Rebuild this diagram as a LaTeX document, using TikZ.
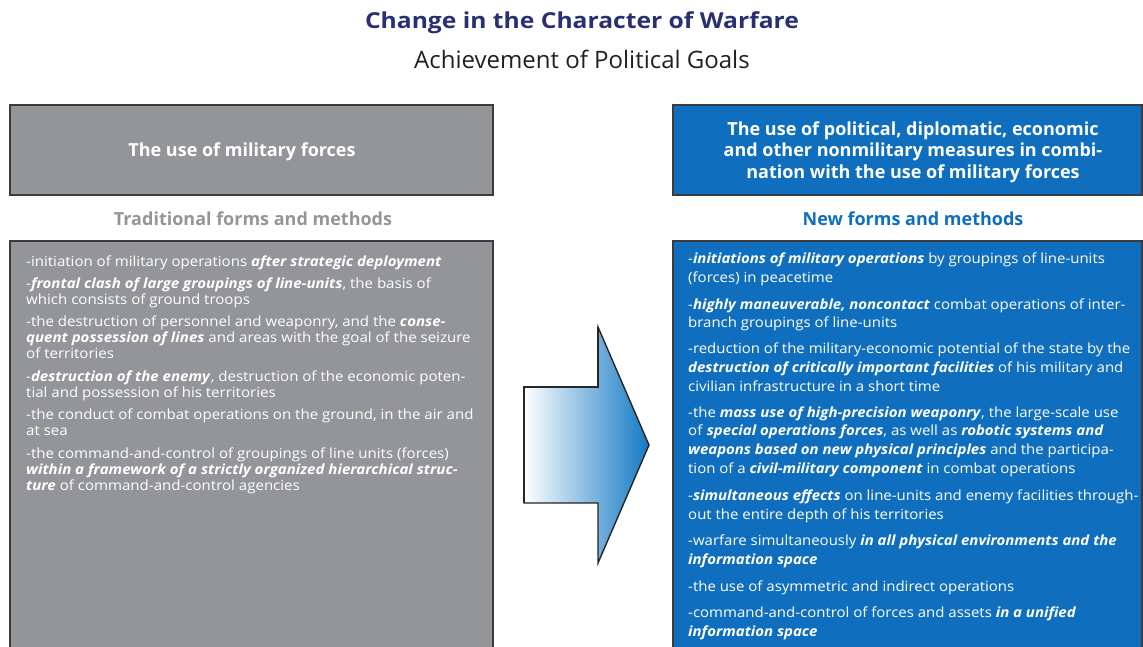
\documentclass[tikz,border=0pt]{standalone}
\usepackage{fontspec}
\setmainfont{Open Sans}
\newfontfamily\bodyfont[FakeStretch=1.075]{Open Sans}
\newfontfamily\rbodyfont[FakeStretch=1.07]{Open Sans}
\newfontfamily\titlefont[FakeStretch=1.12]{Open Sans}
\usetikzlibrary{shadings}
\definecolor{boxgray}{HTML}{939598}
\definecolor{boxblue}{HTML}{0F6FBE}
\definecolor{edgegray}{HTML}{3C3C3E}
\definecolor{titlenavy}{HTML}{2A2F72}
\definecolor{subdark}{HTML}{231F20}
\definecolor{arrowblue}{HTML}{1479C4}
\newcommand\bi[1]{\textbf{\textit{#1}}}
\tikzset{
  panel/.style={draw=edgegray, line width=1.5pt},
  headtext/.style={text=white, font=\fontsize{18}{21.5}\selectfont\bfseries, align=center, inner sep=0pt},
  subhead/.style={font=\fontsize{18}{21}\selectfont\bfseries, inner sep=0pt},
  bodytext/.style={text=white, align=left, inner sep=0pt, anchor=north west},
}
\begin{document}
\begin{tikzpicture}[x=1pt,y=-1pt]
\useasboundingbox (0,0) rectangle (1143,646);
\begin{scope}
\clip (0,0) rectangle (1143,646);
% title
\node[font=\titlefont\fontsize{22}{26}\selectfont\bfseries, text=titlenavy, inner sep=0pt, anchor=base] (title) at (582,28) {Change in the Character of Warfare};
\node[font=\fontsize{24}{28}\selectfont, text=subdark, inner sep=0pt, anchor=base] (subtitle) at (582,68) {Achievement of Political Goals};
% header boxes
\draw[panel, fill=boxgray] (10,105) rectangle (493,195);
\node[headtext] (lhead) at (242,152) {The use of military forces};
\draw[panel, fill=boxblue] (673,105) rectangle (1142,195);
\node[headtext] (rhead) at (913,152) {The use of political, diplomatic, economic\\and other nonmilitary measures in combi-\\nation with the use of military forces};
% subheads
\node[subhead, text=boxgray] (lsub) at (253,219) {Traditional forms and methods};
\node[subhead, text=boxblue] (rsub) at (913,219) {New forms and methods};
% body boxes
\draw[panel, fill=boxgray] (10,241) rectangle (493,660);
\draw[panel, fill=boxblue] (673,241) rectangle (1142,660);
% left body
\node[bodytext, font=\bodyfont\fontsize{14}{16}\selectfont] (lbody) at (26,255.5) {%
-initiation of military operations \bi{after strategic deployment}\\[6pt]
-\bi{frontal clash of large groupings of line-units}, the basis of\\
which consists of ground troops\\[6pt]
-the destruction of personnel and weaponry, and the \bi{conse-}\\
\bi{quent possession of lines} and areas with the goal of the seizure\\
of territories\\[7pt]
-\bi{destruction of the enemy}, destruction of the economic poten-\\
tial and possession of his territories\\[6pt]
-the conduct of combat operations on the ground, in the air and\\
at sea\\[7pt]
-the command-and-control of groupings of line units (forces)\\
\bi{within a framework of a strictly organized hierarchical struc-}\\
\bi{ture} of command-and-control agencies};
% right body
\node[bodytext, font=\rbodyfont\fontsize{14}{18.8}\selectfont] (rbody) at (688,252.5) {%
-\bi{initiations of military operations} by groupings of line-units\\
(forces) in peacetime\\[8pt]
-\bi{highly maneuverable, noncontact} combat operations of inter-\\
branch groupings of line-units\\[7pt]
-reduction of the military-economic potential of the state by the\\
\bi{destruction of critically important facilities} of his military and\\
civilian infrastructure in a short time\\[7pt]
-the \bi{mass use of high-precision weaponry}, the large-scale use\\
of \bi{special operations forces}, as well as \bi{robotic systems and}\\
\bi{weapons based on new physical principles} and the participa-\\
tion of a \bi{civil-military component} in combat operations\\[8pt]
-\bi{simultaneous effects} on line-units and enemy facilities through-\\
out the entire depth of his territories\\[8pt]
-warfare simultaneously \bi{in all physical environments and the}\\
\bi{information space}\\[8pt]
-the use of asymmetric and indirect operations\\[7pt]
-command-and-control of forces and assets \bi{in a unified}\\
\bi{information space}};
% arrow
\coordinate (atip) at (649,445);
\shade[left color=white, right color=arrowblue, shading=axis]
  (524,387) -- (598,387) -- (598,327) -- (atip) -- (598,563) -- (598,503) -- (524,503) -- cycle;
\draw[line width=1.4pt, black!85, line join=miter]
  (524,387) -- (598,387) -- (598,327) -- (atip) -- (598,563) -- (598,503) -- (524,503) -- cycle;
\draw[line width=2.6pt, black!85] (524,503) -- (524,387) -- (598,387) -- (598,327);
\end{scope}
\end{tikzpicture}
\end{document}
